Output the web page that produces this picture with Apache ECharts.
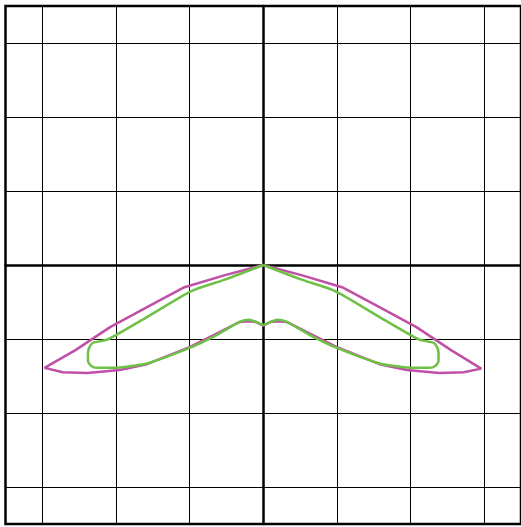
<!DOCTYPE html>
<html>
<head>
<meta charset="utf-8">
<script src="https://cdn.jsdelivr.net/npm/echarts@6/dist/echarts.min.js"></script>
<style>html,body{margin:0;padding:0;background:#fff;}#c{width:521px;height:527px;}</style>
</head>
<body>
<div id="c"></div>
<script>
// Magenta outer loop
const magentaX = [0, -0.53, -1.07, -1.54, -2.08, -2.55, -2.97,
  -2.72, -2.39, -1.95, -1.58, -1.00, -0.64, -0.32, -0.19, -0.10, 0,
  0.10, 0.19, 0.32, 0.64, 1.00, 1.58, 1.95, 2.39, 2.72, 2.96,
  2.55, 2.08, 1.54, 1.07, 0.53, 0];
const magentaY = [0, -0.14, -0.30, -0.55, -0.84, -1.15, -1.39,
  -1.45, -1.46, -1.42, -1.34, -1.11, -0.93, -0.77, -0.76, -0.77, -0.82,
  -0.77, -0.76, -0.77, -0.93, -1.11, -1.34, -1.42, -1.46, -1.45, -1.40,
  -1.15, -0.84, -0.55, -0.30, -0.14, 0];
// Green inner loop
const greenX = [0, -0.50, -0.97, -1.54, -2.12, -2.31, -2.36, -2.38, -2.38, -2.34, -2.26,
  -2.04, -1.58, -1.00, -0.64, -0.32, -0.19, -0.10, 0,
  0.10, 0.19, 0.32, 0.64, 1.00, 1.58, 2.04,
  2.26, 2.34, 2.38, 2.38, 2.36, 2.31, 2.12, 1.54, 0.97, 0.50, 0];
const greenY = [0, -0.19, -0.35, -0.68, -1.01, -1.05, -1.11, -1.19, -1.30, -1.36, -1.39,
  -1.39, -1.33, -1.12, -0.95, -0.77, -0.74, -0.77, -0.81,
  -0.77, -0.74, -0.77, -0.95, -1.12, -1.33, -1.39,
  -1.39, -1.36, -1.30, -1.19, -1.11, -1.05, -1.01, -0.68, -0.35, -0.19, 0];
const axisMin = -3.5, axisMax = 3.5;

function zip(xs, ys){ return xs.map((x,i)=>[x, ys[i]]); }

const chart = echarts.init(document.getElementById('c'));
const axisCommon = {
  type: 'value', min: axisMin, max: axisMax,
  axisLine: {show: true, onZero: true, lineStyle: {color: '#000', width: 2.5}},
  axisTick: {show: false},
  axisLabel: {show: false},
  splitLine: {show: true, lineStyle: {color: '#000', width: 1}}
};
chart.setOption({
  animation: false,
  backgroundColor: '#fff',
  grid: {left: 5.5, top: 6, right: -2.5, bottom: 3, show: true, borderColor: '#000', borderWidth: 2.5, backgroundColor: 'transparent'},
  xAxis: Object.assign({}, axisCommon),
  yAxis: Object.assign({}, axisCommon),
  series: [
    {type: 'line', data: zip(magentaX, magentaY), showSymbol: false, symbol: 'none',
     lineStyle: {color: '#c04fa6', width: 2.5}, smooth: false},
    {type: 'line', data: zip(greenX, greenY), showSymbol: false, symbol: 'none',
     lineStyle: {color: '#6ec046', width: 2.5}, smooth: 0.2}
  ]
});
</script>
</body>
</html>
